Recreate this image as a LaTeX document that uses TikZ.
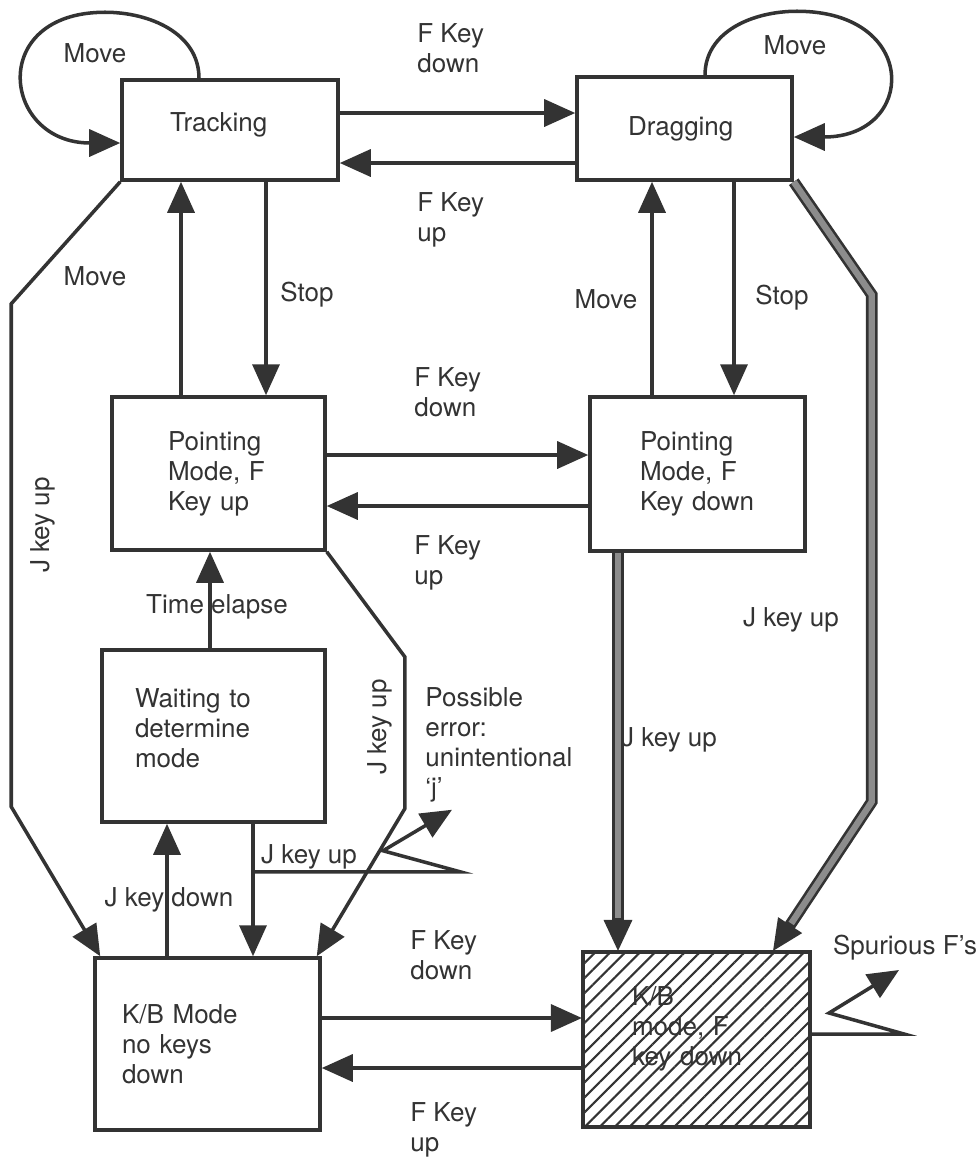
\documentclass[tikz,border=0pt]{standalone}
\usepackage{fontspec}
\setmainfont{TeX Gyre Heros}
\usetikzlibrary{positioning, arrows.meta, calc, patterns.meta}
\definecolor{ink}{HTML}{333333}
\definecolor{shade}{HTML}{8C8C8C}

\begin{document}
\begin{tikzpicture}[
  font=\fontsize{14.8}{17.1}\selectfont,
  state/.style={draw=ink, line width=2pt, align=left, text=ink, inner ysep=0pt},
  lbl/.style={text=ink, align=left, inner sep=0pt},
  arr/.style={-{Triangle[length=6.2mm, width=5.4mm]}, line width=2pt, draw=ink},
  jthick/.style={arr, line width=6.6pt,
                 -{Triangle[length=6.2mm, width=5.6mm, line width=2pt]},
                 postaction={draw=shade, line width=3.6pt, shorten >=6.6mm, -}},
  hatch/.style={pattern={Lines[angle=45, distance=6pt, line width=1.2pt]},
                pattern color=ink},
]
\useasboundingbox (0,0) rectangle (19.6,-23.2);

% ── states ───────────────────────────────────────────────────────────────────
\node[state, minimum width=43.2mm, minimum height=20mm, text width=24mm,
      inner xsep=9.6mm] (tracking) at (4.60,-2.60) {\raisebox{3.2mm}{Tracking}};
\node[state, minimum width=43mm, minimum height=20.6mm, text width=22.6mm,
      inner xsep=10.2mm] (dragging) at (13.69,-2.57) {Dragging};
\node[state, minimum width=42.6mm, minimum height=30.6mm, text width=20.2mm,
      inner xsep=11.2mm] (pup) at (4.37,-9.47) {Pointing\\Mode,~F\\Key~up};
\node[state, minimum width=43mm, minimum height=30.8mm, text width=23mm,
      inner xsep=10mm] (pdown) at (13.95,-9.48) {Pointing\\Mode,~F\\Key~down};
\node[state, minimum width=44.6mm, minimum height=34.4mm, text width=31.4mm,
      inner xsep=6.6mm, text depth=43pt] (waiting) at (4.27,-14.72)
      {Waiting~to\\determine\\mode};
\node[state, minimum width=45mm, minimum height=34.4mm, text width=34.2mm,
      inner xsep=5.4mm] (kbnone) at (4.15,-20.88) {K/B~Mode\\no~keys\\down};
\node[state, hatch, minimum width=45.4mm, minimum height=35mm, text width=25.8mm,
      inner xsep=9.8mm, text depth=50pt] (kbf) at (13.93,-20.79) {K/B\\mode,~F\\key~down};

% ── top row ──────────────────────────────────────────────────────────────────
\draw[arr] ([yshift=3.4mm]tracking.east) -- ([yshift=3.4mm]tracking.east -| dragging.west);
\draw[arr] ([yshift=-6.6mm]tracking.east -| dragging.west) -- ([yshift=-6.6mm]tracking.east);
\draw[arr] ([xshift=-6.2mm]tracking.north) to[out=90, in=0] ++(-1.88,1.32)
           to[out=180, in=180, looseness=2.3] ([yshift=-2.6mm]tracking.west);
\draw[arr] ([xshift=4.1mm]dragging.north) to[out=90, in=180] ++(1.84,1.28)
           to[out=0, in=0, looseness=2.5] ([yshift=-1.7mm]dragging.east);

% ── pointing modes ───────────────────────────────────────────────────────────
\draw[arr] ([xshift=-7.5mm]pup.north) -- ([xshift=-7.5mm]pup.north |- tracking.south);
\draw[arr] ([xshift=9.5mm]pup.north |- tracking.south) -- ([xshift=9.5mm]pup.north);
\draw[arr] ([xshift=-9.1mm]pdown.north) -- ([xshift=-9.1mm]pdown.north |- dragging.south);
\draw[arr] ([xshift=7.3mm]pdown.north |- dragging.south) -- ([xshift=7.3mm]pdown.north);
\draw[arr] ([yshift=3.7mm]pup.east) -- ([yshift=3.7mm]pup.east -| pdown.west);
\draw[arr] ([yshift=-6.5mm]pup.east -| pdown.west) -- ([yshift=-6.5mm]pup.east);

% ── waiting / keyboard ───────────────────────────────────────────────────────
\draw[arr] ([xshift=-0.7mm]waiting.north) -- ([xshift=-0.7mm]waiting.north |- pup.south);
\draw[arr] ([xshift=7.9mm]waiting.south) -- ([xshift=7.9mm]waiting.south |- kbnone.north);
\draw[arr] ([xshift=-9.3mm]waiting.south |- kbnone.north) -- ([xshift=-9.3mm]waiting.south);
\coordinate (jfork) at ($([xshift=7.9mm]waiting.south)+(0,-0.96)$);
\draw[arr] (jfork) -- ++(4.14,0) -- ++(-1.54,0.42) -- ++(1.38,0.82);

\draw[arr] (tracking.south west) -- ++(-2.18,-2.44) -- ++(0,-10.06)
           -- ([xshift=1.4mm]kbnone.north west);
\draw[arr] (pup.south east) -- ++(1.56,-2.10) -- ++(0,-3.04)
           -- ([xshift=-1mm]kbnone.north east);

\draw[jthick] ([xshift=-15.9mm]pdown.south) -- ([xshift=-15.9mm]pdown.south |- kbf.north);
\draw[jthick] (dragging.south east) -- ++(1.56,-2.26) -- ++(0,-10.14)
              -- ([xshift=15.3mm]kbf.north);

\draw[arr] ([yshift=5.2mm]kbnone.east) -- ([yshift=5.2mm]kbnone.east -| kbf.west);
\draw[arr] ([yshift=-4.8mm]kbnone.east -| kbf.west) -- ([yshift=-4.8mm]kbnone.east);
\draw[arr] ([yshift=1.1mm]kbf.east) -- ++(1.86,0) -- ++(-1.5,0.42) -- ++(1.40,0.86);

% ── labels ───────────────────────────────────────────────────────────────────
\node[lbl, anchor=west] (fkdtop) at (8.34,-0.96) {F Key\\down};
\node[lbl, anchor=west] (fkutop) at (8.34,-4.40) {F Key\\up};
\node[lbl, anchor=west] (fkdmid) at (8.28,-7.84) {F Key\\down};
\node[lbl, anchor=west] (fkumid) at (8.28,-11.26) {F Key\\up};
\node[lbl, anchor=west] (fkdbot) at (8.20,-19.10) {F Key\\down};
\node[lbl, anchor=west] (fkubot) at (8.20,-22.60) {F Key\\up};
\node[lbl] (mvtrack) at (1.90,-1.06) {Move};
\node[lbl] (mvdrag) at (15.90,-0.90) {Move};
\node[lbl] (mvleft) at (1.90,-5.52) {Move};
\node[lbl] (mvright) at (12.12,-5.98) {Move};
\node[lbl] (stopleft) at (6.14,-5.90) {Stop};
\node[lbl] (stopright) at (15.64,-5.96) {Stop};
\node[lbl] (elapse) at (4.34,-12.14) {Time elapse};
\node[lbl, rotate=90] (jupleft) at (0.86,-10.50) {J key up};
\node[lbl, rotate=90] (jupmid) at (7.60,-14.54) {J key up};
\node[lbl] (jupfork) at (6.18,-17.14) {J key up};
\node[lbl] (jdown) at (3.38,-18.00) {J key down};
\node[lbl] (jupthick) at (13.38,-14.80) {J key up};
\node[lbl] (jupright) at (15.82,-12.40) {J key up};
\node[lbl, anchor=west] (err) at (8.50,-14.90) {Possible\\error:\\unintentional\\`j'};
\node[lbl] (spur) at (18.10,-18.96) {Spurious F's};

\end{tikzpicture}
\end{document}
